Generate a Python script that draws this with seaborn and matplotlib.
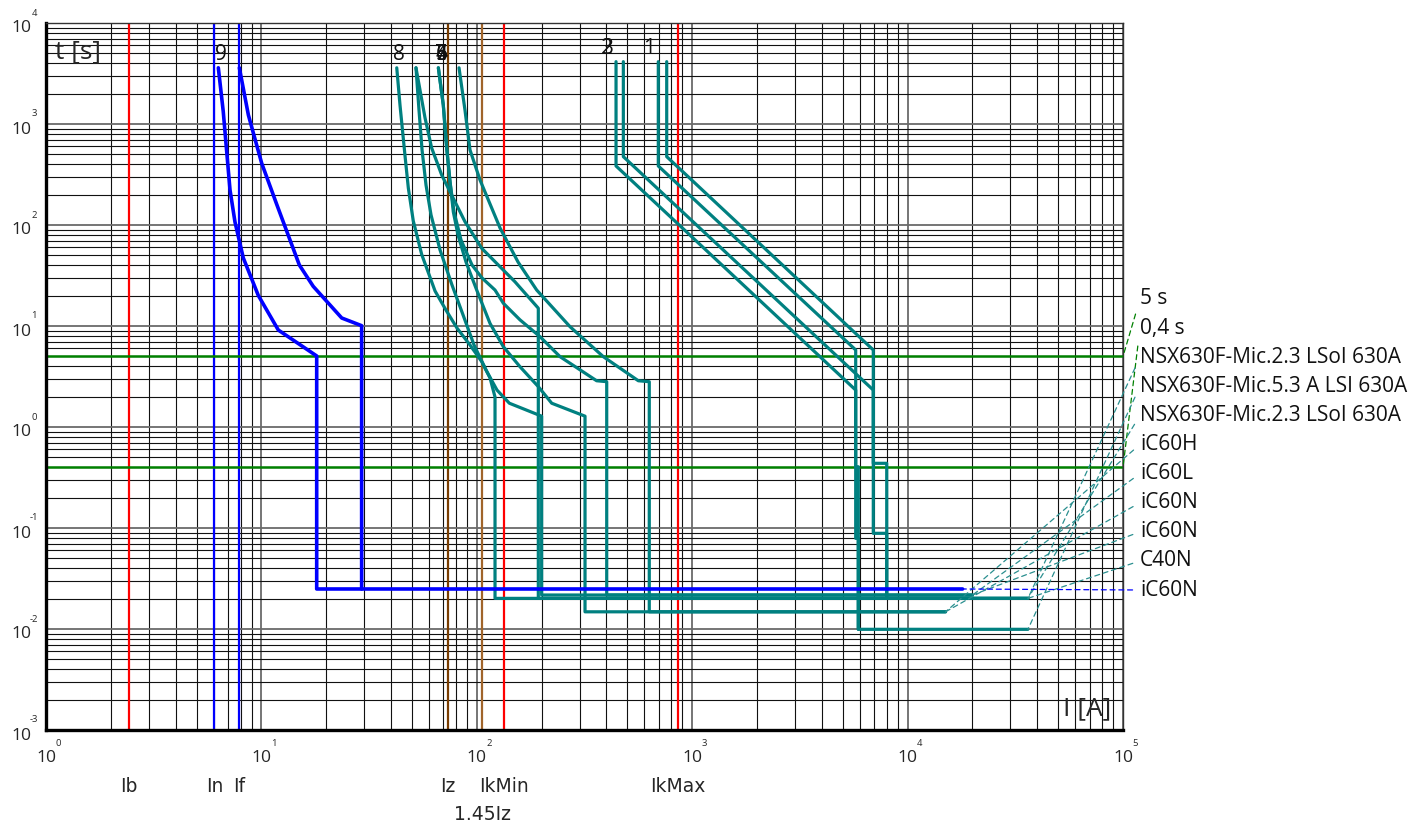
import matplotlib
matplotlib.use("Agg")
import matplotlib.pyplot as plt
import seaborn as sns
import pandas as pd
import numpy as np
from matplotlib.ticker import LogLocator, NullFormatter
from matplotlib.transforms import blended_transform_factory, offset_copy

# reference currents [A] drawn as vertical lines
ref_names = ["Ib", "In", "If", "Iz", "1.45Iz", "IkMin", "IkMax"]
ref_currents = [2.43, 6.05, 7.9, 73.2, 106.1, 133.7, 860]
ref_colors = ["#ff0000", "#0000ff", "#0000ff", "#7a3d00", "#a0642a", "#ff0000", "#ff0000"]

# time limits [s]
time_limits = [5, 0.4]

# curve 9 - iC60N (blue), two tolerance branches
c9_min_I = [6.31, 6.65, 7.15, 7.54, 8.24, 9.67, 11.98, 18.06, 18.06, 18000]
c9_min_t = [3600, 1333, 222, 107, 47.2, 20.1, 9.12, 5.05, 0.0249, 0.0249]
c9_max_I = [7.9, 8.7, 10.03, 11.78, 15.0, 17.4, 23.6, 29.2, 29.2]
c9_max_t = [3600, 1228, 409, 160, 40.2, 24.7, 12.0, 10.07, 0.0249]

# curves 4..8 - small breakers (teal)
m1_I = [42.5, 44.0, 46.4, 48.1, 50.7, 55.5, 64.0, 71.9, 80.9, 93.0, 105.7, 115.2, 121.5, 121.5, 36200]
m1_t = [3600, 1540, 490, 232, 110, 51, 22.2, 14.4, 9.55, 6.48, 4.40, 3.06, 1.98, 0.0201, 0.0201]
m2_I = [52.2, 53.9, 55.7, 58.1, 61.3, 67.5, 76.7, 86.3, 97.1, 110.3, 124.1, 141.6, 200, 200, 20000]
m2_t = [3600, 1380, 553, 249, 126, 56.6, 25.5, 12.9, 6.48, 3.67, 2.32, 1.72, 1.28, 0.0217, 0.0217]
m3_I = [52.2, 57.5, 61.7, 68.7, 79.2, 88.1, 105.4, 125.8, 150.4, 193, 193, 36200]
m3_t = [3600, 1150, 580, 313, 170, 108, 58.8, 40.2, 27.4, 15.0, 0.0201, 0.0201]
m4_I = [66.3, 69.9, 72.5, 75.1, 78.4, 84.5, 95.0, 105.7, 121.5, 132.8, 158.7, 196.5, 243.4, 360, 401, 401, 20000]
m4_t = [3600, 1540, 575, 268, 135, 71.0, 40.2, 29.9, 22.7, 16.8, 11.5, 7.84, 4.97, 2.87, 2.81, 0.0217, 0.0217]
m5_I = [66.3, 69.9, 72.5, 75.1, 77.8, 81.8, 89.1, 99.9, 115.2, 132.8, 158.7, 193, 222.7, 318, 318, 15000]
m5_t = [3600, 1540, 575, 268, 135, 79.6, 43.0, 22.7, 10.6, 6.24, 3.95, 2.51, 1.72, 1.28, 0.0148, 0.0148]
m6_I = [82.7, 88.1, 93.0, 103.5, 128.2, 155.4, 189.7, 270.9, 386.6, 562.2, 632, 632, 15000]
m6_t = [3600, 1380, 553, 279, 93.4, 43.0, 22.7, 9.84, 4.97, 2.87, 2.81, 0.0148, 0.0148]

# curves 1..3 - NSX630F Micrologic (teal)
n1_I = [696, 696, 5742, 5742, 5904, 5904, 36200]
n1_t = [4140, 384, 5.79, 0.404, 0.404, 0.00993, 0.00993]
n2_I = [761.5, 761.5, 6930, 6930, 8000, 8000, 36200]
n2_t = [4140, 475, 5.79, 0.437, 0.437, 0.0201, 0.0201]
n3_I = [443, 443, 5742, 5742, 5904, 5904]
n3_t = [4140, 384, 2.32, 0.079, 0.079, 0.00993]
n4_I = [479, 479, 6930, 6930, 8000, 8000]
n4_t = [4140, 475, 2.32, 0.0886, 0.0886, 0.0201]

# legend on the right: text and the curve end it points to
legend_text = ["5 s", "0,4 s", "NSX630F-Mic.2.3 LSoI 630A", "NSX630F-Mic.5.3 A LSI 630A",
               "NSX630F-Mic.2.3 LSoI 630A", "iC60H", "iC60L", "iC60N", "iC60N", "C40N", "iC60N"]
legend_end_I = [1e5, 1e5, 36200, 36200, 36200, 15000, 20000, 15000, 20000, 36200, 18000]
legend_end_t = [5, 0.4, 0.0201, 0.00993, 0.0201, 0.0148, 0.0217, 0.0148, 0.0217, 0.0201, 0.0249]

TEAL = "#008080"
BLUE = "#0000ff"
GREEN = "#008000"
legend_colors = [GREEN, GREEN] + ["#2a8f8f"] * 8 + [BLUE]

sns.set_style("white")
plt.rcParams["font.family"] = ["Open Sans", "DejaVu Sans"]

W, H = 1417, 825
fig = plt.figure(figsize=(W / 100, H / 100), dpi=100)
ax = fig.add_axes([46 / W, 95 / H, 1077 / W, 707 / H])
ax.set_xscale("log")
ax.set_yscale("log")
ax.set_xlim(1, 1e5)
ax.set_ylim(1e-3, 1e4)

for axis in (ax.xaxis, ax.yaxis):
    axis.set_major_locator(LogLocator(base=10, numticks=20))
    axis.set_minor_locator(LogLocator(base=10, subs=np.arange(2, 10), numticks=20))
    axis.set_minor_formatter(NullFormatter())
ax.grid(which="minor", color="#111111", lw=0.8)
ax.grid(which="major", color="#6a6a6a", lw=1.3)
ax.set_axisbelow(True)
ax.tick_params(which="both", length=0, labelbottom=False, labelleft=False)
for s in ["left", "bottom"]:
    ax.spines[s].set_linewidth(2.4)
    ax.spines[s].set_color("black")
for s in ["top", "right"]:
    ax.spines[s].set_linewidth(1.0)
    ax.spines[s].set_color("#333333")

# reference lines
for cur, col in zip(ref_currents, ref_colors):
    ax.axvline(cur, color=col, lw=1.6, zorder=2)
for tl in time_limits:
    ax.axhline(tl, color=GREEN, lw=1.8, zorder=2)

# teal curves through seaborn
teal = {"m1": (m1_I, m1_t), "m2": (m2_I, m2_t), "m3": (m3_I, m3_t), "m4": (m4_I, m4_t),
        "m5": (m5_I, m5_t), "m6": (m6_I, m6_t), "n1": (n1_I, n1_t), "n2": (n2_I, n2_t),
        "n3": (n3_I, n3_t), "n4": (n4_I, n4_t)}
rows = [(k, i, t) for k, (Is, ts) in teal.items() for i, t in zip(Is, ts)]
df_teal = pd.DataFrame(rows, columns=["branch", "I", "t"])
sns.lineplot(data=df_teal, x="I", y="t", units="branch", estimator=None, sort=False,
             color=TEAL, lw=2.3, ax=ax, legend=False, zorder=3)

blue = {"min": (c9_min_I, c9_min_t), "max": (c9_max_I, c9_max_t)}
rows = [(k, i, t) for k, (Is, ts) in blue.items() for i, t in zip(Is, ts)]
df_blue = pd.DataFrame(rows, columns=["branch", "I", "t"])
sns.lineplot(data=df_blue, x="I", y="t", units="branch", estimator=None, sort=False,
             color=BLUE, lw=2.6, ax=ax, legend=False, zorder=4)
ax.set_xlabel("")
ax.set_ylabel("")

# curve numbers at the top of each curve
num_labels = ["9", "8", "4", "7", "6", "5", "2", "3", "1"]
num_anchor_I = [c9_min_I[0], m1_I[0], m4_I[0], m4_I[0], m4_I[0], m4_I[0], n3_I[0], n3_I[0], n1_I[0]]
num_anchor_t = [c9_min_t[0], m1_t[0], m4_t[0], m4_t[0], m4_t[0], m4_t[0], n3_t[0], n3_t[0], n1_t[0]]
num_dx = [3, 2, 3, 3, 3, 3, -9, -9, -9]
for lab, xi, ti, dx in zip(num_labels, num_anchor_I, num_anchor_t, num_dx):
    ax.annotate(lab, xy=(xi, ti), xytext=(dx, 13), textcoords="offset pixels",
                ha="center", va="center", fontsize=15, color="#111111", annotation_clip=False)

# tick labels 10^k
xt = blended_transform_factory(ax.transData, fig.transFigure)
for k in range(0, 6):
    ax.text(10.0 ** k, 1 - 758 / H, "10", transform=xt, ha="center", va="center", fontsize=12.6)
    ax.text(10.0 ** k, 1 - 743 / H, str(k), transform=offset_copy(xt, fig=fig, x=12, y=0, units="dots"),
            ha="center", va="center", fontsize=6.8)
yt = blended_transform_factory(fig.transFigure, ax.transData)
for k in range(-3, 5):
    ax.text(21.7 / W, 10.0 ** k, "10", transform=offset_copy(yt, fig=fig, x=0, y=-5.5, units="dots"),
            ha="center", va="center", fontsize=12.6)
    ax.text(34 / W, 10.0 ** k, str(k), transform=offset_copy(yt, fig=fig, x=0, y=10, units="dots"),
            ha="center", va="center", fontsize=6.8)

# axis titles inside the plot
fig.text(55 / W, 1 - 52 / H, "t [s]", ha="left", va="center", fontsize=19)
fig.text(1087 / W, 1 - 709 / H, "I [A]", ha="center", va="center", fontsize=19)

# labels of reference currents below the axis
ref_label_y = [787, 787, 787, 787, 815, 787, 787]
for name, cur, py in zip(ref_names, ref_currents, ref_label_y):
    ax.text(cur, 1 - py / H, name, transform=xt, ha="center", va="center",
            fontsize=13.5, family=["DejaVu Sans"])

# legend with dashed leaders
for i, (txt, xi, ti, col) in enumerate(zip(legend_text, legend_end_I, legend_end_t, legend_colors)):
    py = 299 + 29.1 * i
    ax.annotate(txt, xy=(xi, ti), xycoords="data", xytext=(1140 / W, 1 - py / H),
                textcoords="figure fraction", ha="left", va="center", fontsize=15,
                color="#111111", annotation_clip=False,
                arrowprops=dict(arrowstyle="-", color=col, lw=0.9, linestyle=(0, (4, 3)),
                                relpos=(0, 0.5), shrinkA=3, shrinkB=0))

fig.savefig("out.png", dpi=100, facecolor="white")
